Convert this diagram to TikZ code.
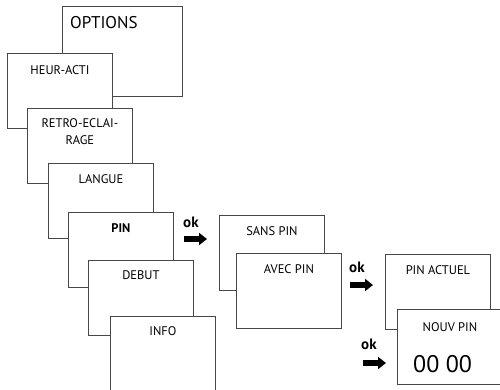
\documentclass[tikz,border=0pt]{standalone}
\usepackage{fontspec}
\setmainfont{PT Sans}
\usetikzlibrary{arrows.meta}

\begin{document}
\begin{tikzpicture}[x=1pt,y=-1pt,
  screen/.style={draw=black!72,line width=0.9pt,fill=white,anchor=north west,minimum width=105pt,minimum height=75pt,inner sep=0pt},
  caption/.style={anchor=base,inner sep=0pt,align=center,font=\fontsize{12.5}{17}\selectfont},
  oklabel/.style={anchor=base west,inner sep=0pt,font=\fontsize{15}{18}\selectfont\bfseries},
  okarrow/.style={line width=6pt,-{Triangle[length=8pt,width=12pt]}}]
            \useasboundingbox (0,0) rectangle (500,389);
            \clip (0,0) rectangle (500,389);
            % menu stack
            \node[screen,minimum width=120pt,minimum height=90pt](options)at(62, 6){};
            \node[caption,anchor=base west,font=\fontsize{17}{20}\selectfont](optionsT)at([xshift=8pt,yshift=-22pt]options.north west){OPTIONS};
            \node[screen](heur)at(7, 53){};
            \node[caption](heurT)at([yshift=-21pt]heur.north){HEUR-ACTI};
            \node[screen](retro)at(27, 108){};
            \node[caption](retroT)at([yshift=-36pt]retro.north){RETRO-ECLAI-\\RAGE};
            \node[screen](langue)at(48, 163){};
            \node[caption](langueT)at([yshift=-20pt]langue.north){LANGUE};
            \node[screen](pin)at(68, 212){};
            \node[caption,font=\fontsize{12.5}{17}\selectfont\bfseries](pinT)at([yshift=-20pt]pin.north){PIN};
            \node[screen](debut)at(88, 260){};
            \node[caption](debutT)at([yshift=-19pt]debut.north){DEBUT};
            \node[screen,minimum height=90pt](info)at(110, 316){};
            \node[caption](infoT)at([yshift=-19pt]info.north){INFO};
            % pin menu
            \node[screen](sans)at(219, 215){};
            \node[caption](sansT)at([yshift=-20pt]sans.north){SANS PIN};
            \node[screen](avec)at(236, 253){};
            \node[caption](avecT)at([yshift=-20pt]avec.north){AVEC PIN};
            \node[screen](actuel)at(385, 254){};
            \node[caption](actuelT)at([yshift=-20pt]actuel.north){PIN ACTUEL};
            \node[screen](nouv)at(397, 309){};
            \node[caption](nouvT)at([yshift=-22pt]nouv.north){NOUV PIN};
            \node[caption,anchor=base west,font=\fontsize{24}{28}\selectfont](code)at(413, 372){00 00};
            % ok steps
            \node[oklabel](ok1)at(183, 227){ok};
            \node[oklabel](ok2)at(349, 272){ok};
            \node[oklabel](ok3)at(361, 349){ok};
            \coordinate(a1s)at(184, 239); \coordinate(a1e)at(207, 239);
            \coordinate(a2s)at(350, 285); \coordinate(a2e)at(373, 285);
            \coordinate(a3s)at(363, 363); \coordinate(a3e)at(386, 363);
            \draw[okarrow](a1s) -- (a1e);
            \draw[okarrow](a2s) -- (a2e);
            \draw[okarrow](a3s) -- (a3e);
        \end{tikzpicture}
\end{document}
